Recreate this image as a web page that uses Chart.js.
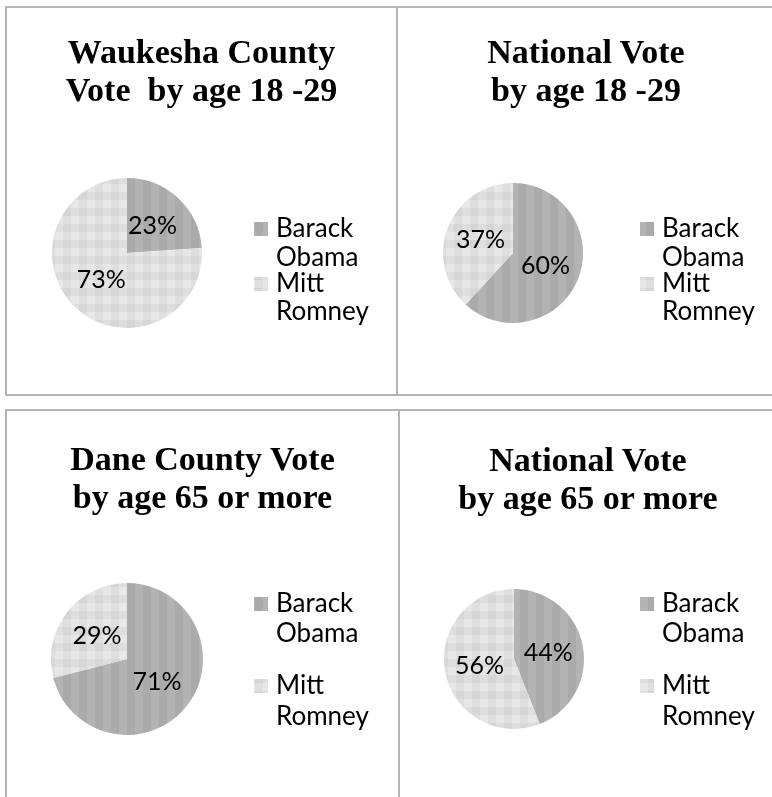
<!DOCTYPE html>
<html>
<head>
<meta charset="utf-8">
<script src="https://cdn.jsdelivr.net/npm/chart.js@4.4.0/dist/chart.umd.min.js"></script>
<style>
  body { margin: 0; background: #fff; width: 772px; height: 797px; overflow: hidden; position: relative; }
  .panel { position: absolute; border: 2px solid #b4b4b4; box-sizing: border-box; }
  .panel canvas { position: absolute; left: 0; top: 0; }
  .title { position: absolute; left: 0; right: 0; text-align: center; white-space: pre;
           font: bold 34px "Liberation Serif", "Times New Roman", serif; line-height: 38px; color: #000; }
</style>
</head>
<body>
<script>
// data
const candidates = ['Barack Obama', 'Mitt Romney'];
const chartTitles = [
  ['Waukesha County', 'Vote  by age 18 -29'],
  ['National Vote', 'by age 18 -29'],
  ['Dane County Vote', 'by age 65 or more'],
  ['National Vote', 'by age 65 or more']
];
const waukeshaYoung = [23, 73];
const nationalYoung = [60, 37];
const daneSenior = [71, 29];
const nationalSenior = [44, 56];

// panel boxes (page px) - x,y,w,h outer; cx,cy,r pie; legend line centres
const panels = [
  { x: 5,   y: 6,   w: 393, h: 390, cx: 127, cy: 253, r: 75, titleY: 33,  lx: 254, ly: [229, 258, 284, 312], data: waukeshaYoung },
  { x: 396, y: 6,   w: 380, h: 390, cx: 513, cy: 253, r: 70, titleY: 33,  lx: 640, ly: [229, 258, 284, 312], data: nationalYoung },
  { x: 5,   y: 409, w: 395, h: 400, cx: 127, cy: 659, r: 76, titleY: 440, lx: 254, ly: [604, 634, 686, 717], data: daneSenior },
  { x: 398, y: 409, w: 380, h: 400, cx: 514, cy: 659, r: 70, titleY: 441, lx: 640, ly: [604, 634, 686, 717], data: nationalSenior }
];

// Excel-ish fill patterns
function stripePattern() {
  const c = document.createElement('canvas');
  c.width = 16; c.height = 16;
  const g = c.getContext('2d');
  g.fillStyle = '#b3b3b3'; g.fillRect(0, 0, 8, 16);
  g.fillStyle = '#aaaaaa'; g.fillRect(8, 0, 8, 16);
  return g.createPattern(c, 'repeat');
}
function checkPattern() {
  const c = document.createElement('canvas');
  c.width = 16; c.height = 16;
  const g = c.getContext('2d');
  g.fillStyle = '#e7e7e7'; g.fillRect(0, 0, 8, 8);
  g.fillStyle = '#dedede'; g.fillRect(8, 0, 8, 8);
  g.fillStyle = '#dedede'; g.fillRect(0, 8, 8, 8);
  g.fillStyle = '#d6d6d6'; g.fillRect(8, 8, 8, 8);
  return g.createPattern(c, 'repeat');
}

// percent labels + legend drawn on the chart canvas
const pieText = {
  id: 'pieText',
  afterDatasetsDraw(chart, args, opts) {
    const ctx = chart.ctx;
    const ds = chart.data.datasets[0];
    const meta = chart.getDatasetMeta(0);
    ctx.save();
    ctx.fillStyle = '#000';
    ctx.font = opts.labelFont;
    ctx.textAlign = 'center';
    ctx.textBaseline = 'middle';
    meta.data.forEach((arc, i) => {
      const p = arc.tooltipPosition();
      ctx.fillText(ds.data[i] + '%', p.x, p.y);
    });
    ctx.font = opts.legendFont;
    ctx.textAlign = 'left';
    chart.data.labels.forEach((label, i) => {
      const lines = label.split(' ');
      const y0 = opts.ly[i * 2];
      ctx.fillStyle = ds.backgroundColor[i];
      ctx.fillRect(opts.lx, y0 - 7, 14, 14);
      ctx.fillStyle = '#000';
      lines.forEach((t, k) => ctx.fillText(t, opts.lx + 22, opts.ly[i * 2 + k]));
    });
    ctx.restore();
  }
};

panels.forEach((p, idx) => {
  const div = document.createElement('div');
  div.className = 'panel';
  Object.assign(div.style, { left: p.x + 'px', top: p.y + 'px', width: p.w + 'px', height: p.h + 'px' });
  document.body.appendChild(div);

  const ox = p.x + 2, oy = p.y + 2;
  const cw = p.w - 4, ch = p.h - 4;

  const title = document.createElement('div');
  title.className = 'title';
  title.style.top = (p.titleY - oy) + 'px';
  title.textContent = chartTitles[idx].join('\n');

  const canvas = document.createElement('canvas');
  canvas.width = cw; canvas.height = ch;
  canvas.style.width = cw + 'px'; canvas.style.height = ch + 'px';
  div.appendChild(canvas);
  div.appendChild(title);

  new Chart(canvas, {
    type: 'pie',
    data: {
      labels: candidates,
      datasets: [{
        data: p.data,
        backgroundColor: [stripePattern(), checkPattern()],
        borderWidth: 0
      }]
    },
    options: {
      responsive: false,
      animation: false,
      events: [],
      layout: {
        padding: {
          left: p.cx - p.r - ox,
          top: p.cy - p.r - oy,
          right: cw - (p.cx + p.r - ox),
          bottom: ch - (p.cy + p.r - oy)
        }
      },
      plugins: {
        legend: { display: false },
        tooltip: { enabled: false },
        title: { display: false },
        pieText: {
          labelFont: '25px Lato, "Open Sans", sans-serif',
          legendFont: '26px Lato, "Open Sans", sans-serif',
          lx: p.lx - ox,
          ly: p.ly.map(v => v - oy)
        }
      }
    },
    plugins: [pieText]
  });
});
</script>
</body>
</html>
